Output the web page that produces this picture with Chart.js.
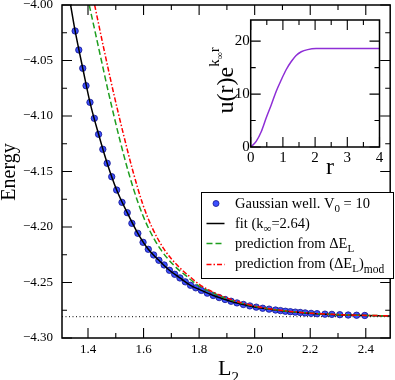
<!DOCTYPE html>
<html>
<head>
<meta charset="utf-8">
<script src="https://cdn.jsdelivr.net/npm/chart.js@4.4.1/dist/chart.umd.min.js"></script>
<style>
  html, body { margin: 0; padding: 0; background: #fff; }
  #wrap { position: relative; width: 395px; height: 380px; overflow: hidden; }
  #main { position: absolute; left: 0; top: -20px; }
  #inset { position: absolute; left: 200px; top: 0; }
</style>
</head>
<body>
<div id="wrap">
  <canvas id="main" width="395" height="400"></canvas>
  <canvas id="inset" width="195" height="180"></canvas>
</div>
<script>
// Gaussian well, V0 = 10 : energy vs box size L2
const L2 = [1.3537, 1.3669, 1.3811, 1.3929, 1.4071, 1.4228, 1.4381, 1.4534, 1.4690, 1.4854,
  1.5032, 1.5224, 1.5413, 1.5580, 1.5794, 1.5982, 1.6171, 1.6363, 1.6552, 1.6740,
  1.6932, 1.7121, 1.7310, 1.7502, 1.7690, 1.7879, 1.8082, 1.8295, 1.8509, 1.8722,
  1.8936, 1.9150, 1.9363, 1.9594, 1.9826, 2.0057, 2.0288, 2.0520, 2.0751, 2.0929,
  2.1107, 2.1285, 2.1463, 2.1641, 2.1819, 2.2032, 2.2246, 2.2530, 2.2779, 2.3064,
  2.3367, 2.3669, 2.3964];
const energy = [-4.0234, -4.0405, -4.0570, -4.0727, -4.0877, -4.1021, -4.1165, -4.1300, -4.1426, -4.1547,
  -4.1667, -4.1778, -4.1871, -4.1967, -4.2057, -4.2138, -4.2201, -4.2252, -4.2300, -4.2342,
  -4.2390, -4.2426, -4.2459, -4.2494, -4.2525, -4.2548, -4.2571, -4.2596, -4.2617, -4.2636,
  -4.2653, -4.2669, -4.2684, -4.2698, -4.2711, -4.2722, -4.2732, -4.2740, -4.2748, -4.2753,
  -4.2759, -4.2763, -4.2767, -4.2770, -4.2774, -4.2778, -4.2781, -4.2785, -4.2787, -4.2790,
  -4.2793, -4.2795, -4.2797];

// fit curve (k_inf = 2.64)
const fitL = [1.3374, 1.3537, 1.3811, 1.4071, 1.4381, 1.4690, 1.5032, 1.5413, 1.5794, 1.6171,
  1.6552, 1.6932, 1.7310, 1.7690, 1.8082, 1.8509, 1.8936, 1.9363, 1.9826, 2.0288,
  2.0751, 2.1285, 2.1819, 2.2530, 2.3367, 2.4879];
const fitE = [-4.0000, -4.0234, -4.0570, -4.0877, -4.1165, -4.1426, -4.1667, -4.1871, -4.2057, -4.2201,
  -4.2300, -4.2390, -4.2459, -4.2525, -4.2571, -4.2617, -4.2653, -4.2684, -4.2711, -4.2732,
  -4.2748, -4.2763, -4.2774, -4.2785, -4.2793, -4.2801];

// prediction from dE_L
const predL = [1.4044, 1.4395, 1.4748, 1.5131, 1.5450, 1.5829, 1.6158, 1.6608, 1.7112, 1.7578,
  1.7960, 1.8379, 1.8835, 1.9520, 2.0125, 2.0831, 2.1523, 2.2082, 2.2819, 2.3699, 2.4879];
const predE = [-4.0000, -4.0400, -4.0800, -4.1200, -4.1500, -4.1800, -4.2000, -4.2200, -4.2350, -4.2450,
  -4.2525, -4.2580, -4.2630, -4.2685, -4.2720, -4.2748, -4.2766, -4.2778, -4.2787, -4.2795, -4.2800];

// prediction from (dE_L)_mod
const predModL = [1.4239, 1.4575, 1.4928, 1.5311, 1.5620, 1.5979, 1.6298, 1.6738, 1.7232, 1.7678,
  1.8050, 1.8449, 1.8895, 1.9560, 2.0155, 2.0851, 2.1533, 2.2082, 2.2819, 2.3699, 2.4879];
const predModE = [-4.0000, -4.0400, -4.0800, -4.1200, -4.1500, -4.1800, -4.2000, -4.2200, -4.2350, -4.2450,
  -4.2525, -4.2580, -4.2630, -4.2685, -4.2720, -4.2748, -4.2766, -4.2778, -4.2787, -4.2795, -4.2800];

// infinite-volume limit (dotted)
const eInfL = [1.3064, 2.4879];
const eInfE = [-4.2808, -4.2808];

const xMajor = [1.4, 1.6, 1.8, 2.0, 2.2, 2.4];
const xMinor = [1.5, 1.7, 1.9, 2.1, 2.3];
const yMajor = [-4.30, -4.25, -4.20, -4.15, -4.10, -4.05, -4.00];
const yMinor = [-4.275, -4.225, -4.175, -4.125, -4.075, -4.025];

// inset: u(r) e^{k r}
const rVals = [0, 0.17, 0.33, 0.48, 0.64, 0.79, 0.95, 1.10, 1.26, 1.41, 1.57, 1.77, 2.03, 2.5, 3.0, 3.5, 4.0];
const uVals = [0, 1.06, 2.94, 5.47, 7.98, 10.5, 12.7, 14.6, 16.15, 17.3, 18.0, 18.4, 18.6, 18.62, 18.62, 18.62, 18.62];
const rMajor = [0, 1, 2, 3, 4];
const rMinor = [0.5, 1.5, 2.5, 3.5];
const uMajor = [0, 10, 20];
const uMinor = [5, 15];

const SERIF = '"Liberation Serif", "Times New Roman", serif';
const pts = (xs, ys) => xs.map((x, i) => ({ x: x, y: ys[i] }));

function frameAndTicks(chart, xMaj, xMin, yMaj, yMin) {
  const ctx = chart.ctx, a = chart.chartArea;
  const sx = chart.scales.x, sy = chart.scales.y;
  ctx.save();
  ctx.strokeStyle = '#000';
  ctx.lineWidth = 1.1;
  ctx.beginPath();
  const tx = (v, len) => {
    const p = sx.getPixelForValue(v);
    ctx.moveTo(p, a.bottom); ctx.lineTo(p, a.bottom - len);
    ctx.moveTo(p, a.top); ctx.lineTo(p, a.top + len);
  };
  const ty = (v, len) => {
    const p = sy.getPixelForValue(v);
    ctx.moveTo(a.left, p); ctx.lineTo(a.left + len, p);
    ctx.moveTo(a.right, p); ctx.lineTo(a.right - len, p);
  };
  xMaj.forEach(v => tx(v, 10)); xMin.forEach(v => tx(v, 5));
  yMaj.forEach(v => ty(v, 10)); yMin.forEach(v => ty(v, 5));
  ctx.stroke();
  ctx.lineWidth = 1.5;
  ctx.strokeRect(a.left, a.top, a.right - a.left, a.bottom - a.top);
  ctx.restore();
}

// draws a run of [text, size, dy] pieces, returns end x
function rich(ctx, parts, x, y) {
  let cx = x;
  parts.forEach(([t, size, dy]) => {
    ctx.font = size + 'px ' + SERIF;
    ctx.fillText(t, cx, y + dy);
    cx += ctx.measureText(t).width;
  });
  return cx;
}

const mainDecor = {
  id: 'mainDecor',
  afterDraw(chart) {
    frameAndTicks(chart, xMajor, xMinor, yMajor, yMinor);
    const ctx = chart.ctx;
    ctx.save();
    ctx.translate(0, 20); // page coordinates from here
    ctx.fillStyle = '#000';
    ctx.textBaseline = 'alphabetic';
    ctx.textAlign = 'left';

    // axis titles
    rich(ctx, [['L', 22, 0], ['2', 15, 7]], 218, 375);
    ctx.save();
    ctx.translate(15, 172);
    ctx.rotate(-Math.PI / 2);
    ctx.textAlign = 'center';
    ctx.font = '20px ' + SERIF;
    ctx.fillText('Energy', 0, 0);
    ctx.restore();

    // legend
    ctx.fillStyle = '#fff';
    ctx.fillRect(201, 192, 192, 86);
    ctx.strokeStyle = '#000';
    ctx.lineWidth = 1;
    ctx.strokeRect(201.5, 192.5, 192, 86);

    ctx.beginPath();
    ctx.arc(216, 203.5, 3, 0, Math.PI * 2);
    ctx.fillStyle = 'rgb(60,80,255)';
    ctx.fill();
    ctx.strokeStyle = 'rgb(20,20,140)';
    ctx.lineWidth = 0.8;
    ctx.stroke();

    const seg = (y, color, dash) => {
      ctx.beginPath();
      ctx.strokeStyle = color;
      ctx.lineWidth = 1.5;
      ctx.setLineDash(dash);
      ctx.moveTo(206.5, y); ctx.lineTo(224.5, y);
      ctx.stroke();
      ctx.setLineDash([]);
    };
    seg(223.5, '#000', []);
    seg(243.5, '#1f9e1f', [6, 3]);
    seg(264.5, '#ff0000', [5, 2, 1.5, 2]);

    ctx.fillStyle = '#000';
    rich(ctx, [['Gaussian well. V', 14.5, 0], ['0', 11, 4], [' = 10', 14.5, 0]], 235, 207.5);
    rich(ctx, [['fit (k', 14.5, 0], ['\u221e', 11, 4], ['=2.64)', 14.5, 0]], 235, 227.5);
    rich(ctx, [['prediction from \u0394E', 14.5, 0], ['L', 11, 4]], 235, 247.5);
    rich(ctx, [['prediction from (\u0394E', 14.5, 0], ['L', 11, 4], [')', 14.5, 0], ['mod', 11.5, 4.5]], 235, 268);
    ctx.restore();
  }
};

const insetDecor = {
  id: 'insetDecor',
  afterDraw(chart) {
    frameAndTicks(chart, rMajor, rMinor, uMajor, uMinor);
    const ctx = chart.ctx;
    ctx.save();
    ctx.translate(-200, 0); // page coordinates
    ctx.fillStyle = '#000';
    ctx.textBaseline = 'alphabetic';
    ctx.textAlign = 'center';
    ctx.font = '24px ' + SERIF;
    ctx.fillText('r', 330, 174);
    ctx.textAlign = 'left';
    ctx.translate(233, 113.5);
    ctx.rotate(-Math.PI / 2);
    rich(ctx, [['u(r)e', 24, 0], ['k', 15, -14], ['\u221e', 10, -10], ['r', 15, -14]], 0, 0);
    ctx.restore();
  }
};

new Chart(document.getElementById('main'), {
  type: 'scatter',
  data: {
    datasets: [
      { data: pts(eInfL, eInfE), showLine: true, borderColor: '#000', borderWidth: 1,
        borderDash: [1, 2.5], pointRadius: 0, order: 6 },
      { data: pts(L2, energy), showLine: false, pointRadius: 3.2,
        backgroundColor: 'rgb(60,80,255)', borderColor: 'rgb(20,20,140)', borderWidth: 0.8, order: 5 },
      { data: pts(fitL, fitE), showLine: true, borderColor: '#000', borderWidth: 1.5,
        pointRadius: 0, cubicInterpolationMode: 'monotone', order: 4 },
      { data: pts(predL, predE), showLine: true, borderColor: '#1f9e1f', borderWidth: 1.5,
        borderDash: [6, 3], pointRadius: 0, cubicInterpolationMode: 'monotone', order: 3 },
      { data: pts(predModL, predModE), showLine: true, borderColor: '#ff0000', borderWidth: 1.5,
        borderDash: [5, 2, 1.5, 2], pointRadius: 0, cubicInterpolationMode: 'monotone', order: 2 }
    ]
  },
  options: {
    responsive: false,
    animation: false,
    events: [],
    layout: { padding: { top: 25, right: 1, left: 0, bottom: 0 } },
    plugins: { legend: { display: false }, tooltip: { enabled: false } },
    scales: {
      x: {
        type: 'linear', min: 1.3064, max: 2.4879,
        grid: { display: false, drawTicks: false }, border: { display: false },
        ticks: {
          stepSize: 0.2, includeBounds: false, padding: 3.5, color: '#000',
          font: { family: SERIF, size: 13 },
          callback: v => v.toFixed(1)
        },
        afterFit: s => { s.height = 42; }
      },
      y: {
        type: 'linear', min: -4.30, max: -4.00,
        grid: { display: false, drawTicks: false }, border: { display: false },
        ticks: {
          stepSize: 0.05, padding: 9, color: '#000',
          font: { family: SERIF, size: 13 },
          callback: v => '\u2212' + Math.abs(v).toFixed(2)
        },
        afterFit: s => { s.width = 62; }
      }
    }
  },
  plugins: [mainDecor]
});

new Chart(document.getElementById('inset'), {
  type: 'scatter',
  data: {
    datasets: [
      { data: pts(rVals, uVals), showLine: true, borderColor: '#8e2fd6', borderWidth: 1.5,
        pointRadius: 0, cubicInterpolationMode: 'monotone' }
    ]
  },
  options: {
    responsive: false,
    animation: false,
    events: [],
    layout: { padding: { top: 20, right: 15.5, left: 0, bottom: 0 } },
    plugins: { legend: { display: false }, tooltip: { enabled: false } },
    scales: {
      x: {
        type: 'linear', min: 0, max: 4,
        grid: { display: false, drawTicks: false }, border: { display: false },
        ticks: { stepSize: 1, includeBounds: false, padding: 2.5, color: '#000',
          font: { family: SERIF, size: 15 } },
        afterFit: s => { s.height = 33; }
      },
      y: {
        type: 'linear', min: 0, max: 24,
        grid: { display: false, drawTicks: false }, border: { display: false },
        ticks: { stepSize: 10, includeBounds: false, padding: 1, color: '#000',
          font: { family: SERIF, size: 15 } },
        afterFit: s => { s.width = 50.7; }
      }
    }
  },
  plugins: [insetDecor]
});
</script>
</body>
</html>
